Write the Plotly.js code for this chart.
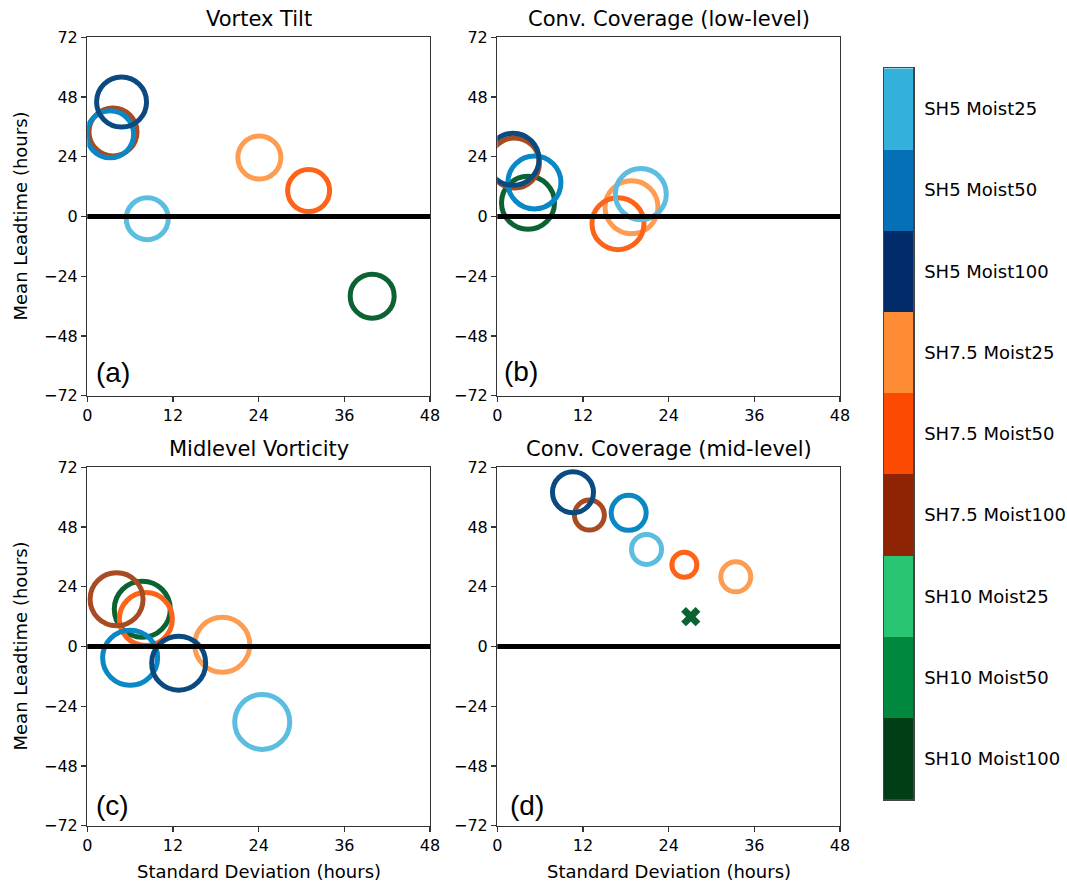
<!DOCTYPE html>
<html>
<head>
<meta charset="utf-8">
<script src="https://cdn.plot.ly/plotly-3.0.1.min.js"></script>
<style>html,body{margin:0;padding:0;background:#fff;}#chart{width:1067px;height:883px;}</style>
</head>
<body>
<div id="chart"></div>
<script>
// ---- data ----
const categories = ["SH5 Moist25","SH5 Moist50","SH5 Moist100","SH7.5 Moist25","SH7.5 Moist50","SH7.5 Moist100","SH10 Moist25","SH10 Moist50","SH10 Moist100"];
const catColors = ["#33b1da","#0570b5","#022b6a","#fd8c34","#fc4a02","#8e2404","#28c672","#00883f","#003f15"];
// colours of the rings as they appear in the panels (semi-transparent look)
const ringColors = ["#5bbde0","#0a88c6","#0a4a80","#fe9d52","#fd6419","#a84b22","#55d18e","#2a9f5f","#0b6334"];
const panelTitles = ["Vortex Tilt","Conv. Coverage (low-level)","Midlevel Vorticity","Conv. Coverage (mid-level)"];
const panelLabels = ["(a)","(b)","(c)","(d)"];
const xTicks = [0,12,24,36,48];
const yTicks = [-72,-48,-24,0,24,48,72];

// std deviation (hours) / mean leadtime (hours), order follows categories (null = not shown)
const tiltStd   = [8.4, 3.2, 4.8, 24.1, 31.0, 3.6, null, null, 39.9];
const tiltMean  = [-0.9, 33, 46, 23.7, 10.4, 34, null, null, -32];
const tiltSize  = [42, 47, 50, 43, 42, 48, null, null, 44];

const lowStd    = [20.1, 5.2, 2.2, 18.8, 16.9, 2.4, null, null, 4.3];
const lowMean   = [9, 13.7, 23, 3.7, -2.9, 21.5, null, null, 5.5];
const lowSize   = [51, 53, 52, 53, 52, 50, null, null, 53];

const vortStd   = [24.5, 6.0, 12.8, 18.9, 8.2, 4.1, null, null, 7.7];
const vortMean  = [-30.3, -4.5, -6.7, 0.7, 11, 19, null, null, 15];
const vortSize  = [55, 55, 54, 55, 53, 53, null, null, 56];

const midStd    = [20.9, 18.4, 10.6, 33.4, 26.2, 12.9, null, null, 27.1];
const midMean   = [39, 53.7, 62, 28, 32.8, 52.8, null, null, 12];
const midSize   = [30, 35, 41, 30, 25, 30, null, null, 17];
const midSymbol = ["circle","circle","circle","circle","circle","circle","circle","circle","x"];

// ---- layout helpers ----
const W = 1067, H = 883;
const fx = p => p / W;
const fy = p => 1 - p / H;
const colL = [87.3, 430], colR = [497.3, 840];
const rowT = [37.3, 395.7], rowB = [467.3, 825.7];

// draw order: SH10 first, then SH7.5, then SH5 on top
const order = [6,7,8,3,4,5,0,1,2];

function panelTrace(xs, ys, sizes, symbols, axn) {
  const idx = order.filter(i => xs[i] !== null);
  const sym = idx.map(i => symbols ? symbols[i] : "circle");
  return {
    type: "scatter", mode: "markers",
    x: idx.map(i => xs[i]), y: idx.map(i => ys[i]),
    text: idx.map(i => categories[i]),
    xaxis: "x" + axn, yaxis: "y" + axn,
    showlegend: false, hoverinfo: "text+x+y",
    marker: {
      opacity: 1,
      size: idx.map(i => sizes[i]),
      symbol: sym,
      color: idx.map((i, k) => sym[k] === "x" ? ringColors[i] : "rgba(0,0,0,0)"),
      line: {
        color: idx.map(i => ringColors[i]),
        width: idx.map((i, k) => sym[k] === "x" ? 0 : 5)
      }
    }
  };
}

const traces = [
  panelTrace(tiltStd, tiltMean, tiltSize, null, ""),
  panelTrace(lowStd, lowMean, lowSize, null, "2"),
  panelTrace(vortStd, vortMean, vortSize, null, "3"),
  panelTrace(midStd, midMean, midSize, midSymbol, "4"),
  {
    type: "heatmap", xaxis: "x5", yaxis: "y5",
    z: categories.map((c, i) => [i]), y: categories, x: [0],
    zmin: -0.5, zmax: categories.length - 0.5,
    colorscale: catColors.flatMap((c, i) => [[i / catColors.length, c], [(i + 1) / catColors.length, c]]),
    showscale: false, hoverinfo: "y"
  }
];

const axFont = {family: "DejaVu Sans", size: 16, color: "#000"};
function xax(dom, anchor) {
  return {domain: dom.map(fx), anchor: anchor, range: [0, 48], tickvals: xTicks,
    ticks: "outside", ticklen: 5, tickwidth: 1.3, tickcolor: "#333",
    showline: true, linecolor: "#333", linewidth: 1.3, mirror: true,
    showgrid: false, zeroline: false, tickfont: axFont, automargin: false, fixedrange: true};
}
function yax(dom, anchor) {
  return {domain: [fy(dom[1]), fy(dom[0])], anchor: anchor, range: [-72, 72], tickvals: yTicks,
    ticks: "outside", ticklen: 5, tickwidth: 1.3, tickcolor: "#333",
    showline: true, linecolor: "#333", linewidth: 1.3, mirror: true,
    showgrid: false, zeroline: false, tickfont: axFont, automargin: false, fixedrange: true};
}

const panels = [
  {xa: "x", ya: "y", col: colL, row: rowT},
  {xa: "x2", ya: "y2", col: colR, row: rowT},
  {xa: "x3", ya: "y3", col: colL, row: rowB},
  {xa: "x4", ya: "y4", col: colR, row: rowB}
];
const labelPos = [[94, 372], [502, 371], [94, 805], [508, 805]];

const annotations = [];
const shapes = [];
panels.forEach((p, k) => {
  const cx = (p.col[0] + p.col[1]) / 2;
  annotations.push({text: panelTitles[k], xref: "paper", yref: "paper", x: fx(cx), y: fy(p.row[0] - 18),
    xanchor: "center", yanchor: "middle", showarrow: false,
    font: {family: "DejaVu Sans", size: 21, color: "#000"}});
  annotations.push({text: panelLabels[k], xref: "paper", yref: "paper", x: fx(labelPos[k][0]), y: fy(labelPos[k][1]),
    xanchor: "left", yanchor: "middle", showarrow: false,
    font: {family: "Liberation Sans", size: 28, color: "#000"}});
  shapes.push({type: "line", xref: p.xa + " domain", yref: p.ya, x0: 0, x1: 1, y0: 0, y1: 0,
    line: {color: "#000", width: 5}, layer: "above"});
});
// axis titles
[colL, colR].forEach(c => {
  annotations.push({text: "Standard Deviation (hours)", xref: "paper", yref: "paper",
    x: fx((c[0] + c[1]) / 2), y: fy(871), xanchor: "center", yanchor: "middle", showarrow: false,
    font: {family: "DejaVu Sans", size: 18, color: "#000"}});
});
[rowT, rowB].forEach(r => {
  annotations.push({text: "Mean Leadtime (hours)", xref: "paper", yref: "paper",
    x: fx(20), y: fy((r[0] + r[1]) / 2), xanchor: "center", yanchor: "middle", textangle: -90, showarrow: false,
    font: {family: "DejaVu Sans", size: 18, color: "#000"}});
});

const layout = {
  width: W, height: H,
  margin: {l: 0, r: 0, t: 0, b: 0, pad: 0},
  paper_bgcolor: "#fff", plot_bgcolor: "#fff",
  showlegend: false,
  xaxis: xax(colL, "y"), yaxis: yax(rowT, "x"),
  xaxis2: xax(colR, "y2"), yaxis2: yax(rowT, "x2"),
  xaxis3: xax(colL, "y3"), yaxis3: yax(rowB, "x3"),
  xaxis4: xax(colR, "y4"), yaxis4: yax(rowB, "x4"),
  xaxis5: {domain: [fx(884), fx(913.3)], anchor: "y5", range: [-0.5, 0.5], showticklabels: false, ticks: "",
    showline: true, mirror: true, linecolor: "#444", linewidth: 1.3, showgrid: false, zeroline: false, fixedrange: true},
  yaxis5: {domain: [fy(799.3), fy(68.3)], anchor: "x5", type: "category", autorange: "reversed", side: "right",
    ticks: "", ticklabelstandoff: 6, tickfont: {family: "DejaVu Sans", size: 18, color: "#000"},
    showline: true, mirror: true, linecolor: "#444", linewidth: 1.3, showgrid: false, zeroline: false,
    automargin: false, fixedrange: true},
  annotations: annotations,
  shapes: shapes
};

Plotly.newPlot("chart", traces, layout, {displayModeBar: false, staticPlot: true});
</script>
</body>
</html>
